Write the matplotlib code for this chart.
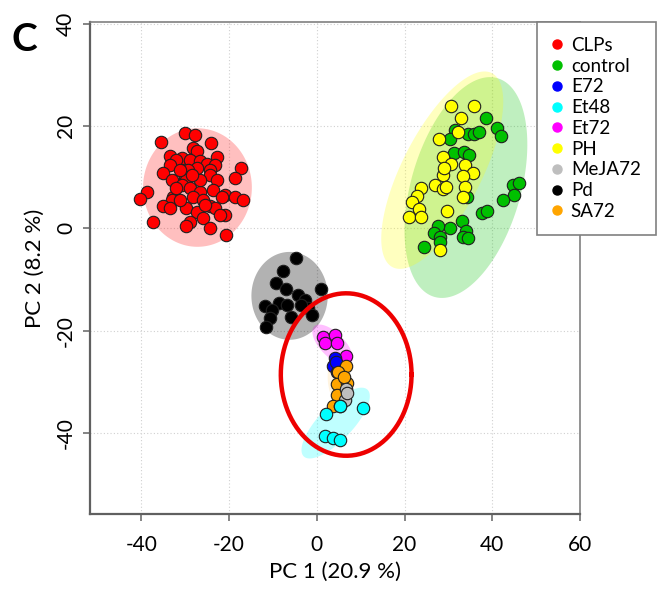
import numpy as np
import matplotlib
matplotlib.use("Agg")
import matplotlib.pyplot as plt
from matplotlib.lines import Line2D

plt.rcParams['font.family'] = ['Lato', 'DejaVu Sans']
plt.rcParams['axes.unicode_minus'] = False

groups = ["CLPs", "control", "E72", "Et48", "Et72", "PH", "MeJA72", "Pd", "SA72"]
colors = ["#FF0000", "#00C000", "#0000FF", "#00FFFF", "#FF00FF", "#FFFF00",
          "#BEBEBE", "#000000", "#FFA500"]

# PCA scores (PC1, PC2)
clps_x = [-30.1, -27.8, -35.4, -24.0, -28.2, -27.4, -33.5, -30.8, -22.8, -32.0,
          -28.9, -26.7, -25.1, -23.2, -33.5, -27.4, -29.3, -24.4, -17.2, -18.7,
          -35.0, -30.1, -29.7, -24.4, -22.8, -33.1, -30.8, -28.9, -26.7, -23.6,
          -38.8, -40.3, -32.7, -33.1, -28.2, -25.9, -21.0, -18.7, -16.8, -21.7,
          -35.0, -33.5, -29.7, -27.4, -24.4, -23.2, -21.0, -22.1, -25.9, -37.3,
          -28.9, -29.7, -24.4, -20.6, -31.2, -26.7, -28.5, -31.2, -25.5, -32.0]
clps_y = [18.6, 18.3, 17.0, 16.7, 15.7, 15.2, 14.2, 13.7, 13.9, 13.4,
          13.4, 13.1, 12.6, 12.4, 12.4, 11.8, 11.4, 11.4, 11.8, 9.8,
          10.8, 10.0, 9.5, 10.5, 9.5, 9.5, 8.5, 7.9, 7.2, 7.5,
          7.2, 5.7, 6.2, 5.6, 6.2, 5.6, 6.6, 6.2, 5.6, 6.2,
          4.3, 3.9, 3.9, 3.3, 4.3, 3.9, 2.6, 2.6, 2.0, 1.3,
          1.3, 0.4, 0.0, -1.3, 5.6, 9.5, 10.5, 11.4, 4.6, 7.9]

control_x = [38.5, 41.1, 42.1, 31.4, 30.3, 34.5, 35.8, 36.9, 31.2, 33.6,
             34.7, 44.7, 46.2, 44.9, 42.4, 34.2, 37.7, 38.7, 33.0, 30.3,
             27.6, 26.7, 28.0, 28.2, 34.1, 33.3, 34.5, 24.4]
control_y = [21.6, 19.6, 18.1, 19.3, 17.5, 18.5, 18.5, 18.8, 14.8, 15.0,
             14.4, 8.5, 8.8, 6.6, 5.6, 6.2, 3.0, 3.5, 1.5, 0.0,
             0.4, -0.9, -1.6, -2.6, -0.6, -1.6, -1.9, -3.6]

ph_x = [30.7, 35.8, 32.8, 32.2, 27.9, 28.8, 30.5, 33.7, 35.5, 28.8,
        33.3, 26.9, 28.8, 29.5, 33.9, 23.8, 22.9, 21.6, 33.3, 23.3,
        29.7, 21.0, 23.8, 28.2, 29.0]
ph_y = [24.0, 24.0, 21.6, 18.9, 17.5, 13.9, 12.6, 12.4, 10.9, 10.5,
        10.3, 8.5, 7.7, 8.1, 8.2, 8.0, 6.4, 5.2, 6.1, 3.8,
        3.5, 2.2, 2.2, -4.2, 11.8]

pd_x = [-4.8, -7.8, -9.2, -7.1, 0.9, -4.3, -2.7, -8.6, -11.8, -6.9,
        -2.0, -10.3, -1.0, -5.8, -10.7, -11.5, -3.5]
pd_y = [-5.8, -8.3, -10.6, -11.9, -11.9, -13.0, -14.0, -14.6, -15.2, -14.9,
        -15.6, -15.9, -16.9, -17.3, -17.6, -19.3, -14.9]

et72_x = [1.4, 4.1, 1.8, 4.5, 6.6]
et72_y = [-21.2, -20.8, -22.5, -22.5, -24.9]

e72_x = [4.1, 3.7, 4.5, 4.3]
e72_y = [-25.4, -27.0, -28.2, -26.2]

meja_x = [6.6, 6.4, 5.3, 7.0]
meja_y = [-31.5, -33.6, -34.7, -32.2]

sa72_x = [6.6, 4.9, 4.5, 6.9, 4.5, 3.6, 6.2]
sa72_y = [-27.0, -28.2, -30.4, -30.2, -32.6, -34.7, -29.0]

et48_x = [2.2, 5.3, 10.5, 1.8, 3.7, 5.3]
et48_y = [-36.3, -34.8, -35.2, -40.7, -41.0, -41.4]

# confidence ellipses: centre, first and second semi-diameter vectors (data units)
ell_group = ["CLPs", "control", "PH", "Pd", "Et72", "Et48", "SA72", "MeJA72", "E72"]
ell_cx = [-27.2, 34.0, 28.6, -6.2, 3.6, 4.3, 5.2, 6.4, 4.1]
ell_cy = [8.0, 8.0, 11.4, -13.2, -22.8, -38.1, -30.2, -32.6, -26.8]
ell_ux = [0.0, 7.2, 11.3, 0.0, 4.2, 7.3, 0.8, 0.0, 0.0]
ell_uy = [11.6, 21.4, 19.0, 8.6, -3.6, 6.5, -4.9, 2.3, 2.0]
ell_vx = [12.4, 12.0, 8.1, 8.7, 1.9, 2.7, 2.6, 1.8, 1.5]
ell_vy = [0.0, -3.0, -3.5, 0.0, 1.7, -2.4, 0.3, 0.0, 0.0]

# highlighted region
circ_cx, circ_cy, circ_rx, circ_ry = 6.7, -28.6, 14.9, 15.9

points = {
    "CLPs": (clps_x, clps_y), "control": (control_x, control_y), "PH": (ph_x, ph_y),
    "Pd": (pd_x, pd_y), "Et72": (et72_x, et72_y), "E72": (e72_x, e72_y),
    "MeJA72": (meja_x, meja_y), "SA72": (sa72_x, sa72_y), "Et48": (et48_x, et48_y),
}
col = dict(zip(groups, colors))

fig = plt.figure(figsize=(6.63, 5.90), dpi=100)
ax = fig.add_axes([0.1357, 0.1288, 0.7391, 0.8339])

t = np.linspace(0, 2 * np.pi, 200)
alphas = {"Pd": 0.3, "SA72": 0.12, "MeJA72": 0.12, "E72": 0.1}
for g, cx, cy, ux, uy, vx, vy in zip(ell_group, ell_cx, ell_cy, ell_ux, ell_uy, ell_vx, ell_vy):
    ex = cx + ux * np.cos(t) + vx * np.sin(t)
    ey = cy + uy * np.cos(t) + vy * np.sin(t)
    ax.fill(ex, ey, color=col[g], alpha=alphas.get(g, 0.25), lw=0, zorder=1)

order = ["CLPs", "control", "PH", "Pd", "Et72", "E72", "SA72", "MeJA72", "Et48"]
for g in order:
    x, y = points[g]
    ax.scatter(x, y, s=80, c=col[g], edgecolors="#202020", linewidths=0.8, zorder=3)

ax.plot(circ_cx + circ_rx * np.cos(t), circ_cy + circ_ry * np.sin(t),
        color="#EE0000", lw=3.2, zorder=4)

ax.set_xlim(-51.7, 60)
ax.set_ylim(-55.9, 40.4)
ax.set_xticks([-40, -20, 0, 20, 40, 60])
ax.set_yticks([-40, -20, 0, 20, 40])
ax.grid(True, ls=(0, (1, 2)), color="#D0D0D0", lw=0.8)
ax.set_axisbelow(True)
for s in ax.spines.values():
    s.set_color("#808080")
    s.set_linewidth(1.2)
ax.spines["left"].set_color("#606060")
ax.spines["bottom"].set_color("#606060")
ax.spines["left"].set_linewidth(1.6)
ax.spines["bottom"].set_linewidth(1.6)
ax.tick_params(length=5, width=1.2, color="#707070", labelsize=15)
ax.tick_params(axis="x", pad=10)
ax.tick_params(axis="y", pad=5)
for lab in ax.get_yticklabels():
    lab.set_rotation(90)
    lab.set_va("center")
ax.set_xlabel("PC 1 (20.9 %)", fontsize=16, labelpad=5)
ax.set_ylabel("PC 2 (8.2 %)", fontsize=16, labelpad=8)

handles = [Line2D([], [], ls="none", marker="o", ms=6.5, mfc=c, mec=c) for c in colors]
leg = fig.legend(handles, groups, loc="upper left", bbox_to_anchor=(0.81, 0.963),
                 frameon=True, fontsize=13.5, handletextpad=0.5, labelspacing=0.2,
                 borderpad=0.8, handlelength=0.5, fancybox=False, borderaxespad=0)
leg.get_frame().set_edgecolor("#808080")
leg.get_frame().set_linewidth(1.2)
leg.get_frame().set_alpha(1)

fig.text(0.018, 0.963, "C", fontsize=28, fontweight="bold", va="top")

fig.savefig("out.png", dpi=100)
